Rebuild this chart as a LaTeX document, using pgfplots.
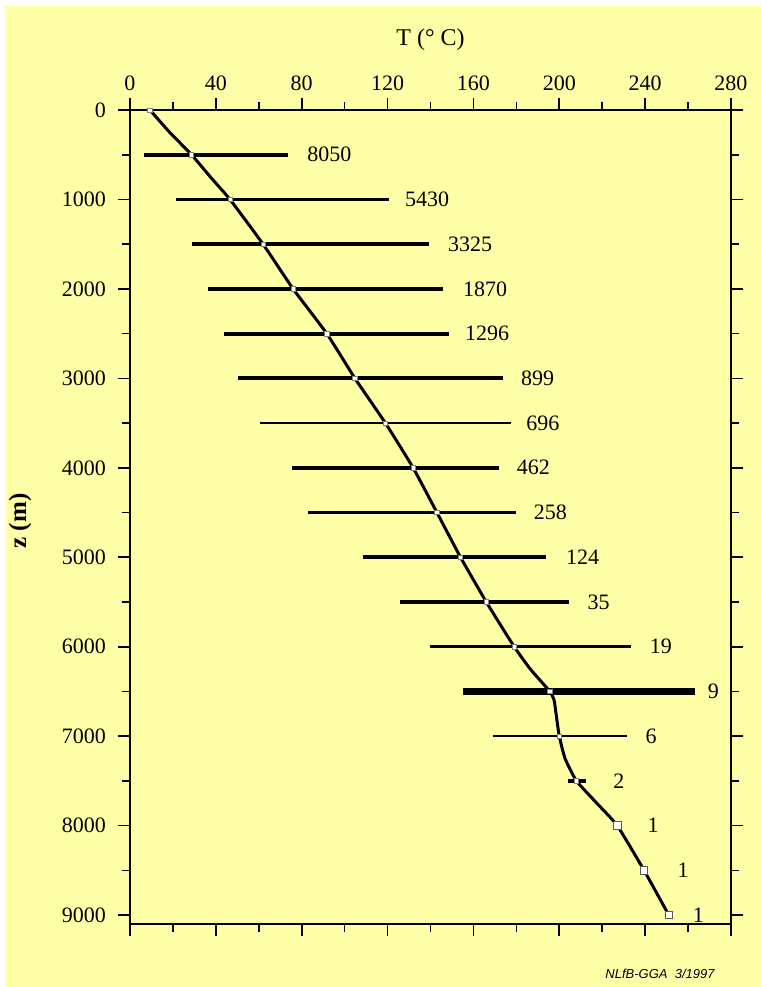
\documentclass[border=0pt]{standalone}
\usepackage{fontspec}
\setmainfont{Liberation Serif}
\newfontfamily\sansf{Liberation Sans}
\usepackage{pgfplots}
\usepackage{pgfplotstable}
\pgfplotsset{compat=1.18}
\definecolor{bgy}{RGB}{255,255,168}

\pgfplotstableread{
z T
0 9.3
500 28.7
1000 46.6
1500 62
2000 76
2500 91.7
3000 104.8
3500 119
4000 131.9
4500 143
5000 154
5500 166
6000 179
6500 195.6
7000 200
7500 208
}\marks

\pgfplotstableread{
z T
0 9.3
250 18.5
500 28.7
750 37.5
1000 46.6
1500 62
2000 76
2500 91.7
3000 104.8
3500 119
4000 131.9
4500 143
5000 154
5500 166
6000 179
6250 186.5
6500 195.6
6600 197.6
6750 198.5
7000 200
7250 202.7
7500 208
7750 217.5
8000 227
8500 239.5
9000 251
}\profile

\pgfplotstableread{
lx z lab
82.5 500 8050
128 1000 5430
148 1500 3325
155 2000 1870
156 2500 1296
182 3000 899
184.5 3500 696
180 4000 462
188 4500 258
203 5000 124
213 5500 35
242 6000 19
269 6500 9
240 7000 6
225 7500 2
241 8000 1
255 8500 1
262 9000 1
}\labels

\begin{document}
\begin{tikzpicture}
\path[use as bounding box, fill=white] (-65pt,-31.5pt) rectangle (315.5pt,462pt);
\fill[bgy] (-62.5pt,-31.5pt) rectangle (315.5pt,459pt);
\begin{axis}[
  at={(0,0)}, anchor=south west,
  scale only axis, width=300.5pt, height=407pt,
  xmin=0, xmax=280, ymin=0, ymax=9100,
  y dir=reverse,
  xtick={0,40,...,280}, ytick={0,1000,...,9000},
  minor x tick num=1, minor y tick num=1,
  xtick pos=both, ytick pos=both,
  xticklabel pos=upper, yticklabel pos=left,
  tick align=outside,
  major tick length=6pt, minor tick length=4pt,
  every tick/.style={black, line width=0.8pt},
  axis line style={line width=1pt},
  /pgf/number format/assume math mode=true,
  /pgf/number format/1000 sep={},
  ticklabel style={font=\fontsize{11}{13}\selectfont},
  yticklabel style={xshift=-2.5pt},
  xlabel={T (° C)},
  xlabel style={at={(axis description cs:0.5,1)}, anchor=center, yshift=35pt, font=\fontsize{12}{14}\selectfont},
  ylabel={z (m)},
  ylabel style={at={(axis description cs:-0.183,0.495)}, anchor=center, font=\bfseries\fontsize{12.5}{14}\selectfont},
  clip=false,
]
\addplot[black, line width=2pt] coordinates {(6.5,500) (73.6,500)};
\addplot[black, line width=1.2pt] coordinates {(21.4,1000) (120.7,1000)};
\addplot[black, line width=2pt] coordinates {(29,1500) (139.3,1500)};
\addplot[black, line width=2pt] coordinates {(36.5,2000) (146,2000)};
\addplot[black, line width=2pt] coordinates {(44,2500) (148.8,2500)};
\addplot[black, line width=2pt] coordinates {(50.3,3000) (174,3000)};
\addplot[black, line width=1.4pt] coordinates {(60.6,3500) (177.5,3500)};
\addplot[black, line width=2pt] coordinates {(75.5,4000) (172,4000)};
\addplot[black, line width=1.7pt] coordinates {(83,4500) (180,4500)};
\addplot[black, line width=2pt] coordinates {(108.5,5000) (194,5000)};
\addplot[black, line width=2pt] coordinates {(126,5500) (204.6,5500)};
\addplot[black, line width=1.4pt] coordinates {(140,6000) (233.5,6000)};
\addplot[black, line width=3.5pt] coordinates {(155,6500) (263,6500)};
\addplot[black, line width=1.3pt] coordinates {(169,7000) (231.6,7000)};
\addplot[black, line width=2pt] coordinates {(204,7500) (212.5,7500)};
\addplot[black, line width=1.5pt, smooth, tension=0.3] table[x=T, y=z] {\profile};
\addplot[only marks, mark=square*, mark size=1.1pt, mark options={fill=white, draw=gray, line width=0.3pt}] table[x=T, y=z] {\marks};
\addplot[only marks, mark=square*, mark size=1.9pt, mark options={fill=white, draw=gray!70!black, line width=0.4pt}] coordinates {(227,8000) (239.5,8500) (251,9000)};
\addplot[draw=none, mark=none, nodes near coords, point meta=explicit symbolic,
  every node near coord/.append style={anchor=west, inner sep=0pt, font=\fontsize{11}{13}\selectfont}]
  table[x=lx, y=z, meta=lab] {\labels};
\end{axis}
\node[font=\sansf\itshape\fontsize{6.5}{8}\selectfont, anchor=center] at (265pt,-25pt) {NLfB-GGA\ \ 3/1997};
\end{tikzpicture}
\end{document}
